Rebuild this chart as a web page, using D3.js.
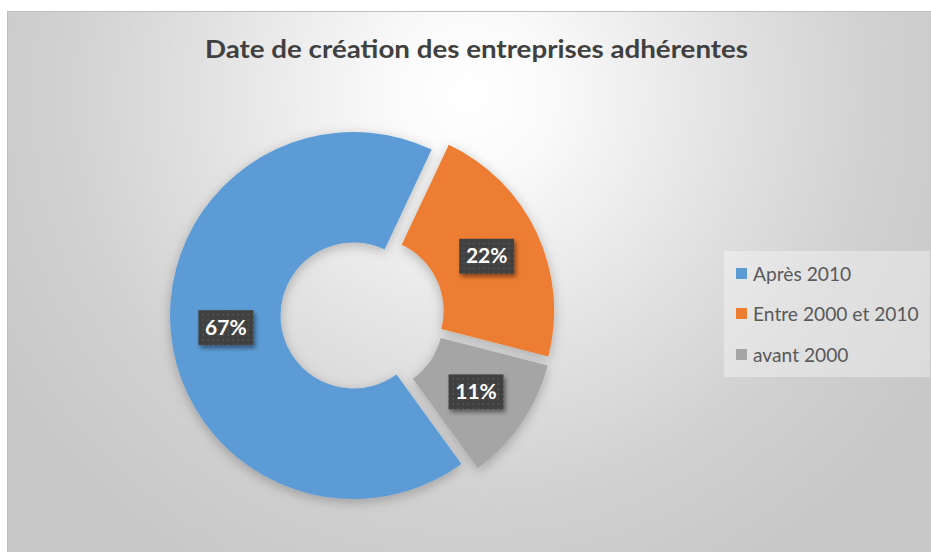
<!DOCTYPE html>
<html>
<head>
<meta charset="utf-8">
<script src="https://cdn.jsdelivr.net/npm/d3@7"></script>
<style>
  html, body { margin: 0; padding: 0; background: #ffffff; }
  svg { display: block; }
</style>
</head>
<body>
<div id="chart"></div>
<script>
// Data
const chartTitle = "Date de création des entreprises adhérentes";
const categories = ["Après 2010", "Entre 2000 et 2010", "avant 2000"];
const shares = [67, 22, 11];

// Style
const colours = ["#5b9bd5", "#ed7d31", "#a5a5a5"];
const firstSliceAngle = 144; // degrees, clockwise from 12 o'clock
const explosion = 9;

const width = 931;
const height = 552;

const svg = d3
  .select("#chart")
  .append("svg")
  .attr("width", width)
  .attr("height", height);

const defs = svg.append("defs");

// Background gradient of the chart area
const bg = defs
  .append("radialGradient")
  .attr("id", "bg")
  .attr("gradientUnits", "userSpaceOnUse")
  .attr("cx", 470)
  .attr("cy", 95)
  .attr("r", 540);
[
  [0, "#ffffff"],
  [0.15, "#fafafa"],
  [0.5, "#e1e1e1"],
  [0.75, "#d1d1d1"],
  [1, "#c8c8c8"],
].forEach(([o, c]) => bg.append("stop").attr("offset", o).attr("stop-color", c));

// Soft shadow under the ring
const ringShadow = defs
  .append("filter")
  .attr("id", "ringShadow")
  .attr("x", "-20%")
  .attr("y", "-20%")
  .attr("width", "140%")
  .attr("height", "140%");
ringShadow
  .append("feDropShadow")
  .attr("dx", 0)
  .attr("dy", 3)
  .attr("stdDeviation", 6)
  .attr("flood-color", "#000")
  .attr("flood-opacity", 0.25);

const boxShadow = defs
  .append("filter")
  .attr("id", "boxShadow")
  .attr("x", "-30%")
  .attr("y", "-30%")
  .attr("width", "160%")
  .attr("height", "160%");
boxShadow
  .append("feDropShadow")
  .attr("dx", 2)
  .attr("dy", 3)
  .attr("stdDeviation", 2)
  .attr("flood-color", "#000")
  .attr("flood-opacity", 0.45);

// Dotted pattern of the data label boxes
const dots = defs
  .append("pattern")
  .attr("id", "dots")
  .attr("patternUnits", "userSpaceOnUse")
  .attr("width", 5)
  .attr("height", 5);
dots.append("rect").attr("width", 5).attr("height", 5).attr("fill", "#404040");
dots
  .append("rect")
  .attr("x", 1.5)
  .attr("y", 1.5)
  .attr("width", 1.5)
  .attr("height", 1.5)
  .attr("fill", "#5c5c5c");

// Chart area
svg
  .append("rect")
  .attr("x", 7.5)
  .attr("y", 11.5)
  .attr("width", width - 7)
  .attr("height", height - 11)
  .attr("fill", "url(#bg)")
  .attr("stroke", "#bdbdbd")
  .attr("stroke-width", 1);

// Title
svg
  .append("text")
  .attr("x", 476.5)
  .attr("y", 58)
  .attr("text-anchor", "middle")
  .attr("textLength", 543)
  .attr("lengthAdjust", "spacingAndGlyphs")
  .style("font-family", "Lato, 'Open Sans', sans-serif")
  .style("font-weight", 700)
  .style("font-size", "25.5px")
  .attr("fill", "#404040")
  .text(chartTitle);

// Doughnut
const centre = { x: 362.5, y: 314.7 };
const pie = d3
  .pie()
  .sort(null)
  .startAngle((firstSliceAngle * Math.PI) / 180)
  .endAngle((firstSliceAngle * Math.PI) / 180 + 2 * Math.PI);
const arcs = pie(shares);
const arc = d3.arc().innerRadius(73).outerRadius(183.5);

const offset = (d) => {
  const mid = (d.startAngle + d.endAngle) / 2;
  return [Math.sin(mid) * explosion, -Math.cos(mid) * explosion];
};

const ring = svg
  .append("g")
  .attr("transform", `translate(${centre.x},${centre.y})`);

ring
  .append("g")
  .attr("filter", "url(#ringShadow)")
  .selectAll("path")
  .data(arcs)
  .join("path")
  .attr("d", arc)
  .attr("transform", (d) => `translate(${offset(d)})`)
  .attr("fill", (d, i) => colours[i]);

// Data labels
const labels = ring
  .selectAll("g.label")
  .data(arcs)
  .join("g")
  .attr("class", "label")
  .attr("transform", (d) => {
    const [cx, cy] = arc.centroid(d);
    const [ox, oy] = offset(d);
    return `translate(${cx + ox},${cy + oy})`;
  });

labels
  .append("rect")
  .attr("x", -27.5)
  .attr("y", -17.5)
  .attr("width", 55)
  .attr("height", 35)
  .attr("fill", "url(#dots)")
  .attr("filter", "url(#boxShadow)");

labels
  .append("text")
  .attr("text-anchor", "middle")
  .attr("y", 7)
  .style("font-family", "Lato, 'Open Sans', sans-serif")
  .style("font-weight", 700)
  .style("font-size", "21px")
  .attr("fill", "#ffffff")
  .text((d) => `${d.data}%`);

// Legend
const legend = svg.append("g");
legend
  .append("rect")
  .attr("x", 724)
  .attr("y", 251)
  .attr("width", 206)
  .attr("height", 126)
  .attr("fill", "#ffffff")
  .attr("fill-opacity", 0.35);

const legendRows = [281, 321, 362];
const items = legend
  .selectAll("g.item")
  .data(categories)
  .join("g")
  .attr("class", "item")
  .attr("transform", (d, i) => `translate(736,${legendRows[i]})`);

items
  .append("rect")
  .attr("x", 0)
  .attr("y", -13)
  .attr("width", 11)
  .attr("height", 11)
  .attr("fill", (d, i) => colours[i]);

items
  .append("text")
  .attr("x", 17)
  .attr("y", 0)
  .style("font-family", "Lato, 'Open Sans', sans-serif")
  .style("font-size", "19.2px")
  .attr("fill", "#595959")
  .text((d) => d);
</script>
</body>
</html>
